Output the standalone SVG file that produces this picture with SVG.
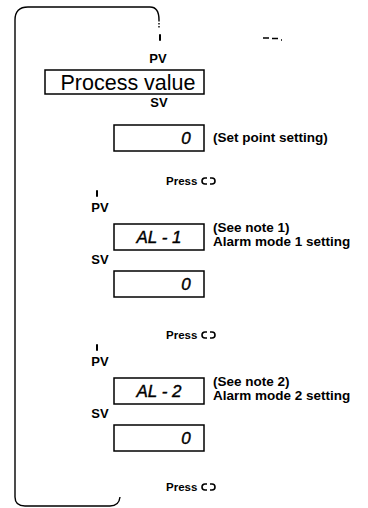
<svg xmlns="http://www.w3.org/2000/svg" width="368" height="508" viewBox="0 0 368 508">
<style>
.lbl{font-family:"Liberation Sans",Arial,sans-serif;font-weight:bold;font-size:13px;fill:#000}
.press{font-family:"Liberation Sans",Arial,sans-serif;font-weight:bold;font-size:11.5px;fill:#000}
.note{font-family:"Liberation Sans",Arial,sans-serif;font-weight:bold;font-size:13.5px;fill:#000}
.seg{font-family:"Liberation Sans",Arial,sans-serif;font-style:italic;font-size:17px;fill:#000;stroke:#000;stroke-width:0.4}
.big{font-family:"Liberation Sans",Arial,sans-serif;font-size:21.5px;fill:#000}
.box{fill:#fff;stroke:#000;stroke-width:1.5}
.line{fill:none;stroke:#000;stroke-width:1.4}
.tick{stroke:#000;stroke-width:2;stroke-linecap:round}
.key{fill:none;stroke:#000;stroke-width:1.6}
</style>
<defs>
<path id="keyicon" class="key" d="M5,-3 H3 A3,3 0 0 0 3,3 H5 M8,-3 H10 A3,3 0 0 1 10,3 H8"/>
</defs>
<rect width="368" height="508" fill="#fff"/>
<g id="connectors">
<path class="line" d="M15,497 V20 Q15,7 28,7 H150 Q159,7 159,20"/>
<path class="line" d="M159,20 V28" stroke-dasharray="1.5,1.5"/>
<path class="line" d="M15,497 Q15,506 25,506 H110 Q119,506 120,497"/>
<line class="tick" x1="160" y1="35" x2="160" y2="40"/>
<line class="tick" x1="97" y1="191" x2="97" y2="196"/>
<line class="tick" x1="97" y1="345" x2="97" y2="350"/>
<path class="line" d="M263,38 H269 M272,38.5 H278 M281,40 H282" stroke-width="1.3"/>
</g>
<g id="pv1"><text class="lbl" x="158" y="63" text-anchor="middle">PV</text></g>
<g id="process-value">
<rect class="box" x="45" y="70" width="159" height="24"/>
<text class="big" x="128" y="89.5" text-anchor="middle">Process value</text>
</g>
<g id="sv1"><text class="lbl" x="159" y="107" text-anchor="middle">SV</text></g>
<g id="set-point">
<rect class="box" x="114" y="125" width="90" height="26"/>
<text class="seg" x="186" y="144" text-anchor="middle">0</text>
<text class="note" x="213" y="142">(Set point setting)</text>
</g>
<g id="press1"><text class="press" x="166" y="185">Press</text><use href="#keyicon" x="202" y="181"/></g>
<g id="pv2"><text class="lbl" x="100" y="212" text-anchor="middle">PV</text></g>
<g id="al1">
<rect class="box" x="114" y="224" width="90" height="26"/>
<text class="seg" x="159" y="243" text-anchor="middle">AL - 1</text>
<text class="note" x="213" y="232">(See note 1)</text>
<text class="note" x="213" y="246">Alarm mode 1 setting</text>
</g>
<g id="sv2"><text class="lbl" x="100" y="264" text-anchor="middle">SV</text></g>
<g id="al1-value">
<rect class="box" x="114" y="271" width="90" height="26"/>
<text class="seg" x="186" y="290" text-anchor="middle">0</text>
</g>
<g id="press2"><text class="press" x="166" y="339">Press</text><use href="#keyicon" x="202" y="335"/></g>
<g id="pv3"><text class="lbl" x="100" y="366" text-anchor="middle">PV</text></g>
<g id="al2">
<rect class="box" x="114" y="378" width="90" height="26"/>
<text class="seg" x="159" y="397" text-anchor="middle">AL - 2</text>
<text class="note" x="213" y="386">(See note 2)</text>
<text class="note" x="213" y="400">Alarm mode 2 setting</text>
</g>
<g id="sv3"><text class="lbl" x="100" y="418" text-anchor="middle">SV</text></g>
<g id="al2-value">
<rect class="box" x="114" y="425" width="90" height="26"/>
<text class="seg" x="186" y="444" text-anchor="middle">0</text>
</g>
<g id="press3"><text class="press" x="166" y="491">Press</text><use href="#keyicon" x="202" y="487"/></g>
</svg>
